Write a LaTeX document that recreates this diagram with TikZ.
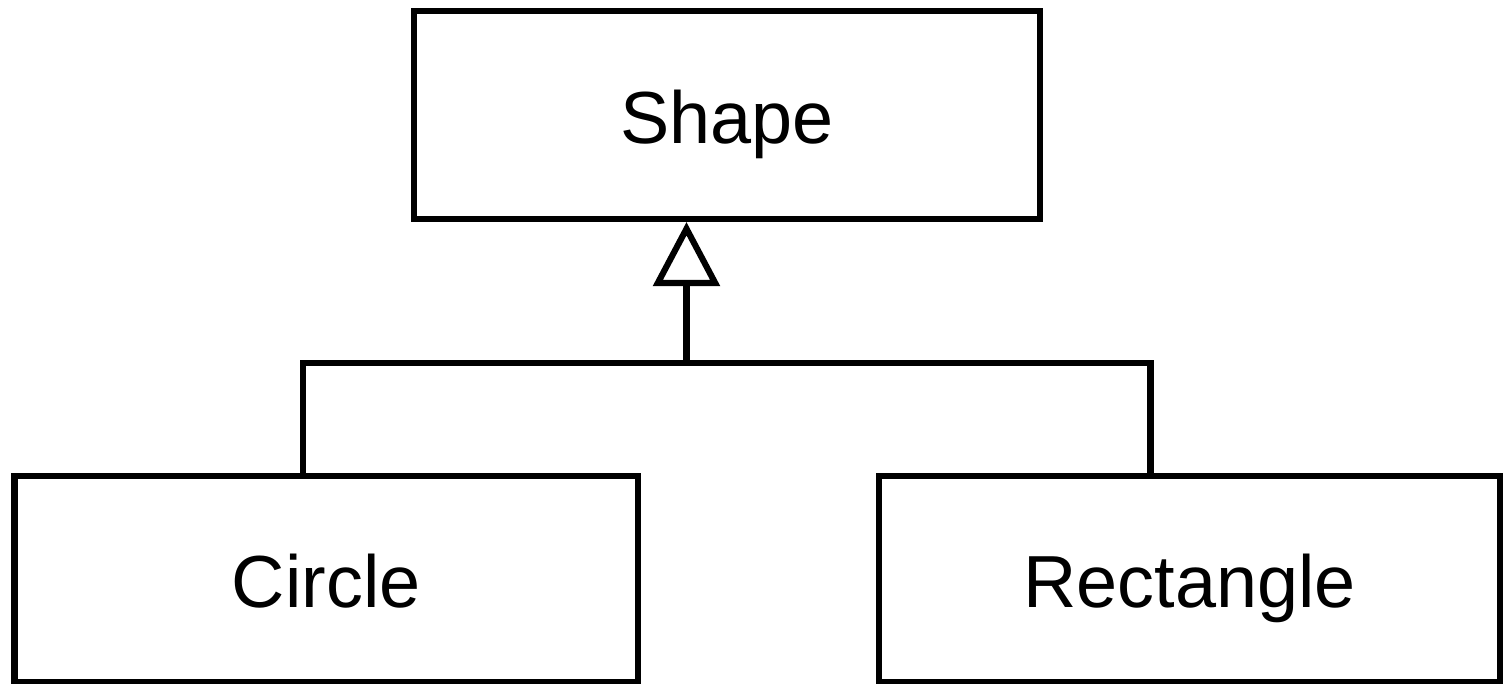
\documentclass[tikz,border=0pt]{standalone}
\usepackage{fontspec}
\setmainfont{Liberation Sans}
\usetikzlibrary{arrows.meta}
\begin{document}
\begin{tikzpicture}[
  line width=1.75pt,
  classbox/.style={draw, rectangle, inner sep=0pt, text height=0.57cm, text depth=0cm, font=\fontsize{21}{25}\selectfont},
  gen/.style={-{Triangle[open, length=0.64cm, width=0.66cm, line width=1.75pt]}}
]
\useasboundingbox (0,0) rectangle (15.03,-6.84);
\node[classbox, minimum width=6.26cm, minimum height=2.08cm] (shape) at (7.27,-1.15) {Shape};
\node[classbox, minimum width=6.235cm, minimum height=2.06cm] (circle) at (3.263,-5.79) {Circle};
\node[classbox, minimum width=6.215cm, minimum height=2.06cm] (rect) at (11.8975,-5.79) {Rectangle};
\coordinate (jl) at (3.03,-3.63);
\coordinate (jr) at (11.505,-3.63);
\coordinate (j) at (6.865,-3.63);
\draw (jl |- circle.north) -- (jl) -- (jr) -- (jr |- rect.north);
\draw[gen] (j) -- (j |- shape.south);
\end{tikzpicture}
\end{document}
